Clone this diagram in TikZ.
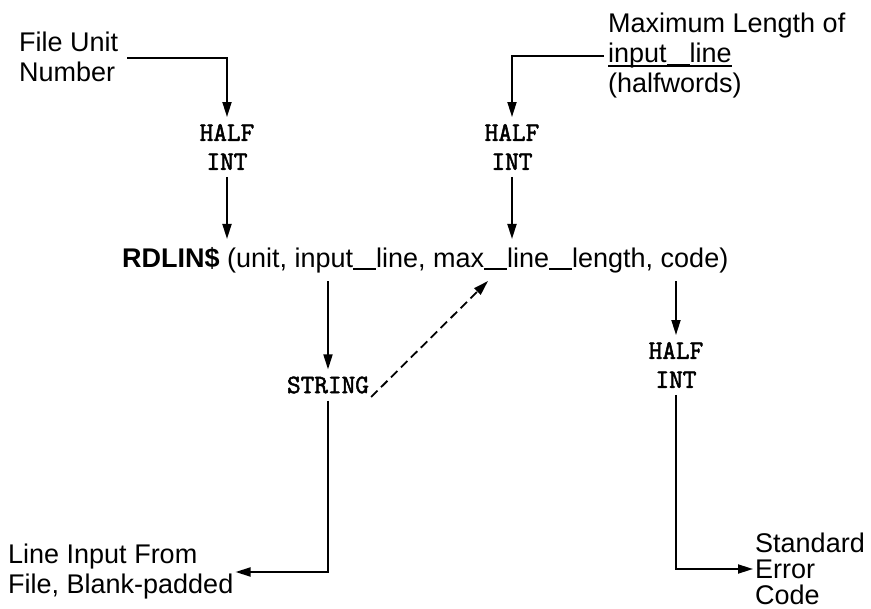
\documentclass[tikz,border=0pt]{standalone}
\usepackage{fontspec}
\setmainfont{Liberation Sans}
\newfontfamily\tyfont{Latin Modern Mono}[FakeBold=2]
\usetikzlibrary{arrows.meta}
\newcommand{\us}{\rule[-0.1em]{0.85em}{0.07em}}
\newcommand{\ulword}[1]{{\setbox0\hbox{#1}\rlap{\rule[-0.16em]{\wd0}{0.07em}}\box0}}
\tikzset{
  lbl/.style={font=\fontsize{27}{30}\selectfont, align=left, inner sep=0pt, anchor=west},
  ty/.style={font=\tyfont\fontsize{26.5}{29}\selectfont, align=center, inner xsep=0pt, inner ysep=7pt},
  conn/.style={line width=1.8pt},
  arr/.style={conn, -{Triangle[length=15pt,width=9pt]}},
}
\begin{document}
\begin{tikzpicture}[x=1pt,y=-1pt]
\useasboundingbox (0,0) rectangle (871,609);
% labels
\node[lbl] (fu) at (19,57) {File Unit\\Number};
\node[lbl] (ml) at (608,56) {Maximum Length of\\\ulword{input\us line}\\(halfwords)};
\node[lbl, inner ysep=8pt] (rd) at (122,260) {\textbf{RDLIN\$} (unit, input\us line, max\us line\us length, code)};
\node[lbl] (li) at (8,572) {Line Input From\\File, Blank-padded};
\node[lbl, font=\fontsize{27}{26}\selectfont] (se) at (755,569) {Standard\\Error\\Code};
% types
\node[ty] (h1) at (227,147) {HALF\\INT};
\node[ty] (h2) at (512,147) {HALF\\INT};
\node[ty] (st) at (328,385) {STRING};
\node[ty] (h3) at (676,365) {HALF\\INT};
\coordinate (c1) at (227,58);
\coordinate (dx) at (488,0);
% connectors
\draw[arr] ([xshift=9pt]fu.east |- c1) -- (c1) -- (h1.north);
\draw[arr] (h1.south) -- (h1.south |- rd.north);
\draw[arr] ([xshift=-4pt]ml.west) -| (h2.north);
\draw[arr] (h2.south) -- (h2.south |- rd.north);
\draw[arr] (st.north |- rd.south) -- (st.north);
\draw[arr, dash pattern=on 9pt off 5pt] ([xshift=2pt,yshift=-12pt]st.east) -- (rd.south -| dx);
\draw[arr] (st.south) |- ([xshift=2pt]li.east);
\draw[arr] (h3.north |- rd.south) -- (h3.north);
\draw[arr] (h3.south) |- ([xshift=-2pt]se.west);
\end{tikzpicture}
\end{document}
